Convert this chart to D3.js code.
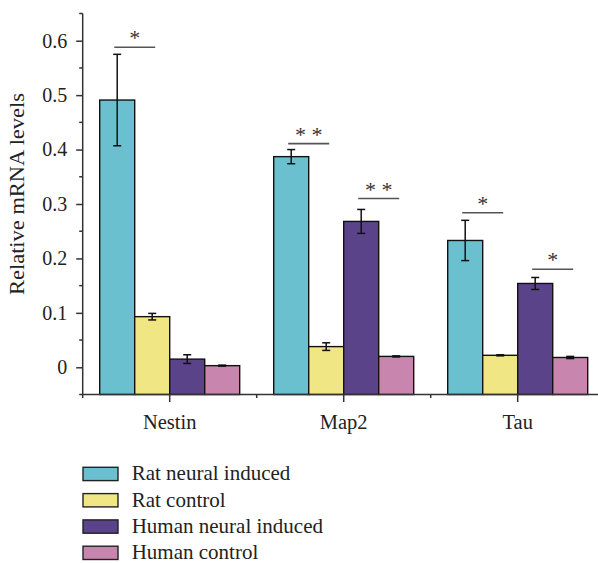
<!DOCTYPE html>
<html><head><meta charset="utf-8">
<script src="https://cdn.jsdelivr.net/npm/d3@7"></script>
</head><body style="margin:0;background:#fff"><svg id="c" width="598" height="563" style="display:block"></svg>
<script>
const categories = ["Nestin", "Map2", "Tau"];
const series = ["Rat neural induced", "Rat control", "Human neural induced", "Human control"];
const colors = ["#6BC0CF", "#F0E784", "#5B438A", "#C886AE"];
const values = [
  [0.491, 0.093, 0.015, 0.003],
  [0.387, 0.038, 0.268, 0.020],
  [0.233, 0.022, 0.154, 0.018]
];
const errors = [
  [0.084, 0.006, 0.008, 0.001],
  [0.013, 0.007, 0.022, 0.001],
  [0.037, 0.001, 0.011, 0.002]
];
const yTicks = [0, 0.1, 0.2, 0.3, 0.4, 0.5, 0.6];
const yMinorTicks = [-0.05, 0.05, 0.15, 0.25, 0.35, 0.45, 0.55, 0.65];
// significance: category index, series index of left bar, level, label
const sigCat = [0, 1, 1, 2, 2];
const sigSeries = [0, 0, 2, 0, 2];
const sigLevel = [0.588, 0.411, 0.310, 0.284, 0.180];
const sigLabel = ["*", "* *", "* *", "*", "*"];

const FONT = '"Liberation Serif"';
const svg = d3.select("#c");
const y = d3.scaleLinear().domain([-0.05, 0.65]).range([394.5, 13.5]);
const x = d3.scaleBand().domain(categories).range([82.7, 604.7]).padding(0);
const bw = x.bandwidth();
const xs = d3.scaleBand().domain(series).range([bw/2 - 70, bw/2 + 70]).padding(0);

categories.forEach((c, ci) => {
  const g = svg.append("g").attr("transform", `translate(${x(c)},0)`);
  series.forEach((s, si) => {
    const v = values[ci][si];
    g.append("rect").attr("x", xs(s)).attr("y", y(v)).attr("width", xs.bandwidth())
      .attr("height", y(-0.05) - y(v)).attr("fill", colors[si]).attr("stroke", "#111").attr("stroke-width", 1.4);
  });
  series.forEach((s, si) => {
    const v = values[ci][si], e = errors[ci][si];
    const cx = xs(s) + xs.bandwidth()/2;
    g.append("line").attr("x1", cx).attr("x2", cx).attr("y1", y(v+e)).attr("y2", y(v-e)).attr("stroke", "#111").attr("stroke-width", 1.5);
    [v+e, v-e].forEach(t => g.append("line").attr("x1", cx-4).attr("x2", cx+4).attr("y1", y(t)).attr("y2", y(t)).attr("stroke", "#111").attr("stroke-width", 1.5));
  });
});

sigCat.forEach((ci, i) => {
  const cx = x(categories[ci]) + xs(series[sigSeries[i]]) + xs.bandwidth()/2;
  const yy = y(sigLevel[i]);
  svg.append("line").attr("x1", cx - 3).attr("x2", cx + 38).attr("y1", yy).attr("y2", yy).attr("stroke", "#555").attr("stroke-width", 1.6);
  svg.append("text").attr("x", cx + 17.5).attr("y", yy - 2).attr("text-anchor", "middle")
    .style("font-family", FONT).style("font-size", "22px").style("fill", "#333").text(sigLabel[i]);
});

const ya = svg.append("g").attr("transform", "translate(82.7,0)")
  .call(d3.axisLeft(y).tickValues(yTicks).tickSize(6.5).tickPadding(9).tickFormat(d => d === 0 ? "0" : d3.format(".1f")(d)));
ya.attr("font-family", null);
ya.selectAll("text").style("font-family", FONT).style("font-size", "20px").style("fill", "#222");
ya.select(".domain").attr("d", `M0,${y(-0.05)}V${y(0.65)}`);
ya.selectAll("line, path").attr("stroke", "#333").attr("stroke-width", 1.5);
yMinorTicks.forEach(t => ya.append("line").attr("x1", -3.5).attr("x2", 0).attr("y1", y(t)).attr("y2", y(t)).attr("stroke", "#333").attr("stroke-width", 1.5));

const xa = svg.append("g").attr("transform", `translate(0,${y(-0.05)})`)
  .call(d3.axisBottom(x).tickSize(7.5).tickPadding(12));
xa.attr("font-family", null);
xa.selectAll("text").style("font-family", FONT).style("font-size", "20.5px").style("fill", "#222");
xa.select(".domain").attr("d", `M82.7,0H598`);
xa.selectAll("line, path").attr("stroke", "#333").attr("stroke-width", 1.5);
categories.forEach(c => xa.append("line").attr("x1", x(c)).attr("x2", x(c)).attr("y1", 0).attr("y2", 3.5).attr("stroke", "#333").attr("stroke-width", 1.5));

svg.append("text").attr("transform", "translate(24,194) rotate(-90)").attr("text-anchor", "middle")
  .attr("textLength", 202).attr("lengthAdjust", "spacingAndGlyphs")
  .style("font-family", FONT).style("font-size", "20px").style("fill", "#222").text("Relative mRNA levels");

const lg = svg.append("g");
series.forEach((s, i) => {
  const yy = 467.3 + i * 26.3;
  lg.append("rect").attr("x", 83).attr("y", yy).attr("width", 35).attr("height", 13.3).attr("fill", colors[i]).attr("stroke", "#222").attr("stroke-width", 1.4);
  lg.append("text").attr("x", 131.7).attr("y", yy + 13)
    .style("font-family", FONT).style("font-size", "21px").style("fill", "#222").text(s);
});
</script></body></html>
